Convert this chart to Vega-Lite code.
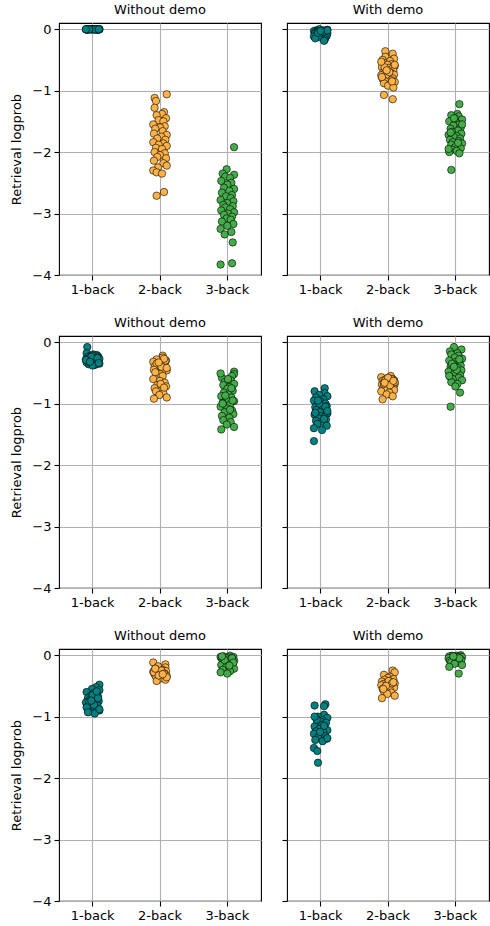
{
"$schema": "https://vega.github.io/schema/vega-lite/v6.json",
"padding": {"left": 10, "top": 3, "right": 1, "bottom": 2},
"background": "white",
"config": {
  "font": "DejaVu Sans",
  "view": {"stroke": "black", "strokeWidth": 1.1},
  "axis": {"labelFont": "DejaVu Sans", "labelFontSize": 13, "labelColor": "black", "tickColor": "black", "tickSize": 5, "tickWidth": 1.1, "domain": false, "grid": true, "gridColor": "#b0b0b0", "gridWidth": 1.1, "titleFont": "DejaVu Sans", "titleFontSize": 13, "titleFontWeight": "normal", "titleColor": "black", "labelPadding": 3},
  "title": {"font": "DejaVu Sans", "fontSize": 13, "fontWeight": "normal", "color": "black", "offset": 6},
  "circle": {"size": 55, "stroke": "black", "strokeWidth": 0.6, "opacity": 1}
},
"data": {"values": [
{"p":1,"c":"1-back","v":0.0,"j":0.08},{"p":1,"c":"1-back","v":-0.001,"j":-0.05},{"p":1,"c":"1-back","v":-0.002,"j":0.02},{"p":1,"c":"1-back","v":-0.003,"j":-0.09},{"p":1,"c":"1-back","v":-0.005,"j":0.06},{"p":1,"c":"1-back","v":-0.004,"j":-0.02},{"p":1,"c":"1-back","v":-0.001,"j":0.1},{"p":1,"c":"1-back","v":-0.002,"j":-0.07},{"p":1,"c":"1-back","v":-0.006,"j":0.04},{"p":1,"c":"1-back","v":-0.003,"j":-0.1},{"p":1,"c":"1-back","v":-0.002,"j":0.0},{"p":1,"c":"1-back","v":-0.001,"j":0.07},{"p":1,"c":"1-back","v":-0.004,"j":-0.04},{"p":1,"c":"1-back","v":-0.008,"j":0.09},{"p":1,"c":"1-back","v":-0.002,"j":-0.08},{"p":1,"c":"1-back","v":-0.001,"j":0.03},{"p":1,"c":"1-back","v":-0.003,"j":-0.06},{"p":1,"c":"1-back","v":-0.005,"j":0.05},{"p":1,"c":"1-back","v":-0.002,"j":-0.01},{"p":1,"c":"1-back","v":-0.001,"j":0.1},{"p":1,"c":"1-back","v":-0.01,"j":-0.09},{"p":1,"c":"1-back","v":-0.002,"j":0.01},{"p":1,"c":"1-back","v":-0.003,"j":0.06},{"p":1,"c":"1-back","v":-0.001,"j":-0.03},{"p":1,"c":"1-back","v":-0.004,"j":0.08},{"p":1,"c":"1-back","v":-0.002,"j":-0.07},{"p":1,"c":"1-back","v":-0.006,"j":0.04},{"p":1,"c":"1-back","v":-0.001,"j":-0.05},{"p":1,"c":"1-back","v":-0.003,"j":0.09},{"p":1,"c":"1-back","v":-0.002,"j":-0.1},
{"p":1,"c":"2-back","v":-1.06,"j":0.1},{"p":1,"c":"2-back","v":-1.12,"j":-0.08},{"p":1,"c":"2-back","v":-1.17,"j":-0.06},{"p":1,"c":"2-back","v":-1.28,"j":-0.08},{"p":1,"c":"2-back","v":-1.35,"j":0.06},{"p":1,"c":"2-back","v":-1.38,"j":0.03},{"p":1,"c":"2-back","v":-1.4,"j":-0.05},{"p":1,"c":"2-back","v":-1.45,"j":0.09},{"p":1,"c":"2-back","v":-1.48,"j":-0.02},{"p":1,"c":"2-back","v":-1.5,"j":0.05},{"p":1,"c":"2-back","v":-1.55,"j":-0.1},{"p":1,"c":"2-back","v":-1.58,"j":0.07},{"p":1,"c":"2-back","v":-1.6,"j":0.0},{"p":1,"c":"2-back","v":-1.62,"j":-0.07},{"p":1,"c":"2-back","v":-1.66,"j":0.04},{"p":1,"c":"2-back","v":-1.7,"j":-0.09},{"p":1,"c":"2-back","v":-1.72,"j":0.1},{"p":1,"c":"2-back","v":-1.75,"j":0.02},{"p":1,"c":"2-back","v":-1.78,"j":-0.04},{"p":1,"c":"2-back","v":-1.8,"j":0.08},{"p":1,"c":"2-back","v":-1.84,"j":-0.1},{"p":1,"c":"2-back","v":-1.86,"j":0.05},{"p":1,"c":"2-back","v":-1.88,"j":-0.02},{"p":1,"c":"2-back","v":-1.9,"j":0.1},{"p":1,"c":"2-back","v":-1.93,"j":-0.06},{"p":1,"c":"2-back","v":-1.95,"j":0.03},{"p":1,"c":"2-back","v":-2.0,"j":-0.08},{"p":1,"c":"2-back","v":-2.02,"j":0.07},{"p":1,"c":"2-back","v":-2.05,"j":0.0},{"p":1,"c":"2-back","v":-2.08,"j":-0.04},{"p":1,"c":"2-back","v":-2.1,"j":0.09},{"p":1,"c":"2-back","v":-2.14,"j":-0.09},{"p":1,"c":"2-back","v":-2.18,"j":0.05},{"p":1,"c":"2-back","v":-2.22,"j":0.1},{"p":1,"c":"2-back","v":-2.25,"j":-0.03},{"p":1,"c":"2-back","v":-2.3,"j":-0.1},{"p":1,"c":"2-back","v":-2.33,"j":-0.05},{"p":1,"c":"2-back","v":-2.35,"j":0.03},{"p":1,"c":"2-back","v":-2.65,"j":0.06},{"p":1,"c":"2-back","v":-2.71,"j":-0.05},
{"p":1,"c":"3-back","v":-1.92,"j":0.1},{"p":1,"c":"3-back","v":-2.28,"j":-0.01},{"p":1,"c":"3-back","v":-2.35,"j":-0.07},{"p":1,"c":"3-back","v":-2.37,"j":0.1},{"p":1,"c":"3-back","v":-2.4,"j":-0.03},{"p":1,"c":"3-back","v":-2.42,"j":0.04},{"p":1,"c":"3-back","v":-2.47,"j":-0.09},{"p":1,"c":"3-back","v":-2.5,"j":0.06},{"p":1,"c":"3-back","v":-2.53,"j":0.0},{"p":1,"c":"3-back","v":-2.58,"j":-0.05},{"p":1,"c":"3-back","v":-2.6,"j":0.1},{"p":1,"c":"3-back","v":-2.63,"j":0.03},{"p":1,"c":"3-back","v":-2.66,"j":-0.08},{"p":1,"c":"3-back","v":-2.7,"j":0.07},{"p":1,"c":"3-back","v":-2.72,"j":-0.02},{"p":1,"c":"3-back","v":-2.75,"j":0.05},{"p":1,"c":"3-back","v":-2.78,"j":-0.1},{"p":1,"c":"3-back","v":-2.8,"j":0.09},{"p":1,"c":"3-back","v":-2.83,"j":0.0},{"p":1,"c":"3-back","v":-2.86,"j":-0.06},{"p":1,"c":"3-back","v":-2.88,"j":0.08},{"p":1,"c":"3-back","v":-2.9,"j":-0.03},{"p":1,"c":"3-back","v":-2.93,"j":0.04},{"p":1,"c":"3-back","v":-2.95,"j":-0.09},{"p":1,"c":"3-back","v":-2.98,"j":0.1},{"p":1,"c":"3-back","v":-3.0,"j":0.01},{"p":1,"c":"3-back","v":-3.02,"j":-0.05},{"p":1,"c":"3-back","v":-3.05,"j":0.07},{"p":1,"c":"3-back","v":-3.08,"j":-0.01},{"p":1,"c":"3-back","v":-3.1,"j":0.05},{"p":1,"c":"3-back","v":-3.13,"j":-0.08},{"p":1,"c":"3-back","v":-3.17,"j":0.09},{"p":1,"c":"3-back","v":-3.2,"j":0.0},{"p":1,"c":"3-back","v":-3.25,"j":-0.1},{"p":1,"c":"3-back","v":-3.3,"j":0.06},{"p":1,"c":"3-back","v":-3.34,"j":-0.04},{"p":1,"c":"3-back","v":-3.47,"j":0.08},{"p":1,"c":"3-back","v":-3.81,"j":0.07},{"p":1,"c":"3-back","v":-3.83,"j":-0.1},
{"p":2,"c":"1-back","v":0.0,"j":-0.02},{"p":2,"c":"1-back","v":-0.01,"j":0.1},{"p":2,"c":"1-back","v":-0.02,"j":-0.07},{"p":2,"c":"1-back","v":-0.02,"j":0.04},{"p":2,"c":"1-back","v":-0.03,"j":-0.1},{"p":2,"c":"1-back","v":-0.03,"j":0.0},{"p":2,"c":"1-back","v":-0.04,"j":0.07},{"p":2,"c":"1-back","v":-0.04,"j":-0.04},{"p":2,"c":"1-back","v":-0.05,"j":0.09},{"p":2,"c":"1-back","v":-0.05,"j":-0.08},{"p":2,"c":"1-back","v":-0.05,"j":0.03},{"p":2,"c":"1-back","v":-0.06,"j":-0.06},{"p":2,"c":"1-back","v":-0.06,"j":0.05},{"p":2,"c":"1-back","v":-0.07,"j":-0.01},{"p":2,"c":"1-back","v":-0.07,"j":0.1},{"p":2,"c":"1-back","v":-0.08,"j":-0.09},{"p":2,"c":"1-back","v":-0.08,"j":0.01},{"p":2,"c":"1-back","v":-0.08,"j":0.06},{"p":2,"c":"1-back","v":-0.09,"j":-0.03},{"p":2,"c":"1-back","v":-0.09,"j":0.08},{"p":2,"c":"1-back","v":-0.1,"j":-0.07},{"p":2,"c":"1-back","v":-0.1,"j":0.04},{"p":2,"c":"1-back","v":-0.11,"j":-0.05},{"p":2,"c":"1-back","v":-0.11,"j":0.09},{"p":2,"c":"1-back","v":-0.12,"j":-0.1},{"p":2,"c":"1-back","v":-0.12,"j":0.02},{"p":2,"c":"1-back","v":-0.13,"j":-0.02},{"p":2,"c":"1-back","v":-0.14,"j":0.07},{"p":2,"c":"1-back","v":-0.15,"j":-0.08},{"p":2,"c":"1-back","v":-0.04,"j":0.05},{"p":2,"c":"1-back","v":-0.06,"j":-0.04},{"p":2,"c":"1-back","v":-0.02,"j":0.1},{"p":2,"c":"1-back","v":-0.17,"j":0.06},{"p":2,"c":"1-back","v":-0.19,"j":0.05},{"p":2,"c":"1-back","v":-0.03,"j":0.0},
{"p":2,"c":"2-back","v":-0.36,"j":-0.04},{"p":2,"c":"2-back","v":-0.4,"j":0.07},{"p":2,"c":"2-back","v":-0.45,"j":-0.04},{"p":2,"c":"2-back","v":-0.48,"j":0.09},{"p":2,"c":"2-back","v":-0.5,"j":-0.08},{"p":2,"c":"2-back","v":-0.52,"j":0.03},{"p":2,"c":"2-back","v":-0.55,"j":-0.06},{"p":2,"c":"2-back","v":-0.57,"j":0.05},{"p":2,"c":"2-back","v":-0.58,"j":-0.01},{"p":2,"c":"2-back","v":-0.6,"j":0.1},{"p":2,"c":"2-back","v":-0.62,"j":-0.09},{"p":2,"c":"2-back","v":-0.63,"j":0.01},{"p":2,"c":"2-back","v":-0.65,"j":0.06},{"p":2,"c":"2-back","v":-0.66,"j":-0.03},{"p":2,"c":"2-back","v":-0.68,"j":0.08},{"p":2,"c":"2-back","v":-0.7,"j":-0.07},{"p":2,"c":"2-back","v":-0.71,"j":0.04},{"p":2,"c":"2-back","v":-0.72,"j":-0.05},{"p":2,"c":"2-back","v":-0.74,"j":0.09},{"p":2,"c":"2-back","v":-0.75,"j":-0.1},{"p":2,"c":"2-back","v":-0.77,"j":0.02},{"p":2,"c":"2-back","v":-0.78,"j":-0.02},{"p":2,"c":"2-back","v":-0.8,"j":0.07},{"p":2,"c":"2-back","v":-0.81,"j":-0.08},{"p":2,"c":"2-back","v":-0.83,"j":0.05},{"p":2,"c":"2-back","v":-0.85,"j":-0.04},{"p":2,"c":"2-back","v":-0.86,"j":0.1},{"p":2,"c":"2-back","v":-0.88,"j":-0.06},{"p":2,"c":"2-back","v":-0.9,"j":0.03},{"p":2,"c":"2-back","v":-0.92,"j":0.0},{"p":2,"c":"2-back","v":-0.95,"j":0.08},{"p":2,"c":"2-back","v":-0.62,"j":-0.05},{"p":2,"c":"2-back","v":-0.7,"j":0.02},{"p":2,"c":"2-back","v":-0.78,"j":-0.09},{"p":2,"c":"2-back","v":-0.85,"j":0.06},{"p":2,"c":"2-back","v":-0.67,"j":-0.02},{"p":2,"c":"2-back","v":-0.58,"j":0.1},{"p":2,"c":"2-back","v":-1.07,"j":-0.06},{"p":2,"c":"2-back","v":-1.14,"j":0.07},{"p":2,"c":"2-back","v":-0.53,"j":-0.1},
{"p":2,"c":"3-back","v":-1.22,"j":0.06},{"p":2,"c":"3-back","v":-1.38,"j":0.03},{"p":2,"c":"3-back","v":-1.4,"j":-0.06},{"p":2,"c":"3-back","v":-1.42,"j":0.05},{"p":2,"c":"3-back","v":-1.45,"j":-0.01},{"p":2,"c":"3-back","v":-1.47,"j":0.1},{"p":2,"c":"3-back","v":-1.5,"j":-0.09},{"p":2,"c":"3-back","v":-1.52,"j":0.01},{"p":2,"c":"3-back","v":-1.55,"j":0.06},{"p":2,"c":"3-back","v":-1.57,"j":-0.03},{"p":2,"c":"3-back","v":-1.6,"j":0.08},{"p":2,"c":"3-back","v":-1.62,"j":-0.07},{"p":2,"c":"3-back","v":-1.65,"j":0.04},{"p":2,"c":"3-back","v":-1.67,"j":-0.05},{"p":2,"c":"3-back","v":-1.7,"j":0.09},{"p":2,"c":"3-back","v":-1.72,"j":-0.1},{"p":2,"c":"3-back","v":-1.74,"j":0.02},{"p":2,"c":"3-back","v":-1.76,"j":-0.02},{"p":2,"c":"3-back","v":-1.78,"j":0.07},{"p":2,"c":"3-back","v":-1.8,"j":-0.08},{"p":2,"c":"3-back","v":-1.82,"j":0.05},{"p":2,"c":"3-back","v":-1.84,"j":-0.04},{"p":2,"c":"3-back","v":-1.86,"j":0.1},{"p":2,"c":"3-back","v":-1.88,"j":-0.06},{"p":2,"c":"3-back","v":-1.9,"j":0.03},{"p":2,"c":"3-back","v":-1.92,"j":0.0},{"p":2,"c":"3-back","v":-1.94,"j":0.08},{"p":2,"c":"3-back","v":-1.96,"j":-0.05},{"p":2,"c":"3-back","v":-1.98,"j":0.02},{"p":2,"c":"3-back","v":-2.0,"j":-0.09},{"p":2,"c":"3-back","v":-2.02,"j":0.06},{"p":2,"c":"3-back","v":-1.45,"j":-0.02},{"p":2,"c":"3-back","v":-1.55,"j":0.1},{"p":2,"c":"3-back","v":-1.68,"j":-0.07},{"p":2,"c":"3-back","v":-1.85,"j":0.04},{"p":2,"c":"3-back","v":-1.95,"j":-0.1},{"p":2,"c":"3-back","v":-2.29,"j":-0.06},
{"p":3,"c":"1-back","v":-0.08,"j":-0.08},{"p":3,"c":"1-back","v":-0.18,"j":-0.09},{"p":3,"c":"1-back","v":-0.2,"j":0.01},{"p":3,"c":"1-back","v":-0.21,"j":0.06},{"p":3,"c":"1-back","v":-0.22,"j":-0.03},{"p":3,"c":"1-back","v":-0.23,"j":0.08},{"p":3,"c":"1-back","v":-0.24,"j":-0.07},{"p":3,"c":"1-back","v":-0.25,"j":0.04},{"p":3,"c":"1-back","v":-0.26,"j":-0.05},{"p":3,"c":"1-back","v":-0.27,"j":0.09},{"p":3,"c":"1-back","v":-0.28,"j":-0.1},{"p":3,"c":"1-back","v":-0.29,"j":0.02},{"p":3,"c":"1-back","v":-0.3,"j":-0.02},{"p":3,"c":"1-back","v":-0.31,"j":0.07},{"p":3,"c":"1-back","v":-0.32,"j":-0.08},{"p":3,"c":"1-back","v":-0.33,"j":0.05},{"p":3,"c":"1-back","v":-0.34,"j":-0.04},{"p":3,"c":"1-back","v":-0.35,"j":0.1},{"p":3,"c":"1-back","v":-0.36,"j":-0.06},{"p":3,"c":"1-back","v":-0.37,"j":0.03},{"p":3,"c":"1-back","v":-0.22,"j":0.0},{"p":3,"c":"1-back","v":-0.25,"j":0.08},{"p":3,"c":"1-back","v":-0.28,"j":-0.05},{"p":3,"c":"1-back","v":-0.3,"j":0.02},{"p":3,"c":"1-back","v":-0.33,"j":-0.09},{"p":3,"c":"1-back","v":-0.35,"j":0.06},{"p":3,"c":"1-back","v":-0.24,"j":-0.02},{"p":3,"c":"1-back","v":-0.27,"j":0.1},{"p":3,"c":"1-back","v":-0.31,"j":-0.07},{"p":3,"c":"1-back","v":-0.36,"j":0.04},{"p":3,"c":"1-back","v":-0.29,"j":-0.1},{"p":3,"c":"1-back","v":-0.38,"j":0.0},{"p":3,"c":"1-back","v":-0.26,"j":0.07},{"p":3,"c":"1-back","v":-0.32,"j":-0.04},{"p":3,"c":"1-back","v":-0.34,"j":0.09},
{"p":3,"c":"2-back","v":-0.22,"j":0.04},{"p":3,"c":"2-back","v":-0.25,"j":0.04},{"p":3,"c":"2-back","v":-0.28,"j":-0.05},{"p":3,"c":"2-back","v":-0.3,"j":0.09},{"p":3,"c":"2-back","v":-0.32,"j":-0.1},{"p":3,"c":"2-back","v":-0.34,"j":0.02},{"p":3,"c":"2-back","v":-0.36,"j":-0.02},{"p":3,"c":"2-back","v":-0.38,"j":0.07},{"p":3,"c":"2-back","v":-0.4,"j":-0.08},{"p":3,"c":"2-back","v":-0.42,"j":0.05},{"p":3,"c":"2-back","v":-0.44,"j":-0.04},{"p":3,"c":"2-back","v":-0.46,"j":0.1},{"p":3,"c":"2-back","v":-0.48,"j":-0.06},{"p":3,"c":"2-back","v":-0.5,"j":0.03},{"p":3,"c":"2-back","v":-0.52,"j":0.0},{"p":3,"c":"2-back","v":-0.3,"j":0.08},{"p":3,"c":"2-back","v":-0.35,"j":-0.05},{"p":3,"c":"2-back","v":-0.4,"j":0.02},{"p":3,"c":"2-back","v":-0.45,"j":-0.09},{"p":3,"c":"2-back","v":-0.27,"j":0.06},{"p":3,"c":"2-back","v":-0.33,"j":-0.02},{"p":3,"c":"2-back","v":-0.42,"j":0.1},{"p":3,"c":"2-back","v":-0.49,"j":-0.07},{"p":3,"c":"2-back","v":-0.55,"j":0.04},{"p":3,"c":"2-back","v":-0.6,"j":-0.1},{"p":3,"c":"2-back","v":-0.63,"j":0.0},{"p":3,"c":"2-back","v":-0.66,"j":0.07},{"p":3,"c":"2-back","v":-0.7,"j":-0.04},{"p":3,"c":"2-back","v":-0.72,"j":0.09},{"p":3,"c":"2-back","v":-0.75,"j":-0.08},{"p":3,"c":"2-back","v":-0.78,"j":0.03},{"p":3,"c":"2-back","v":-0.8,"j":-0.06},{"p":3,"c":"2-back","v":-0.83,"j":0.05},{"p":3,"c":"2-back","v":-0.86,"j":-0.01},{"p":3,"c":"2-back","v":-0.9,"j":0.1},{"p":3,"c":"2-back","v":-0.92,"j":-0.09},{"p":3,"c":"2-back","v":-0.68,"j":0.01},{"p":3,"c":"2-back","v":-0.74,"j":0.06},
{"p":3,"c":"3-back","v":-0.48,"j":0.1},{"p":3,"c":"3-back","v":-0.52,"j":0.1},{"p":3,"c":"3-back","v":-0.55,"j":0.07},{"p":3,"c":"3-back","v":-0.58,"j":-0.08},{"p":3,"c":"3-back","v":-0.62,"j":0.05},{"p":3,"c":"3-back","v":-0.65,"j":-0.04},{"p":3,"c":"3-back","v":-0.68,"j":0.1},{"p":3,"c":"3-back","v":-0.7,"j":-0.06},{"p":3,"c":"3-back","v":-0.73,"j":0.03},{"p":3,"c":"3-back","v":-0.76,"j":0.0},{"p":3,"c":"3-back","v":-0.79,"j":0.08},{"p":3,"c":"3-back","v":-0.82,"j":-0.05},{"p":3,"c":"3-back","v":-0.85,"j":0.02},{"p":3,"c":"3-back","v":-0.88,"j":-0.09},{"p":3,"c":"3-back","v":-0.9,"j":0.06},{"p":3,"c":"3-back","v":-0.93,"j":-0.02},{"p":3,"c":"3-back","v":-0.96,"j":0.1},{"p":3,"c":"3-back","v":-0.99,"j":-0.07},{"p":3,"c":"3-back","v":-1.02,"j":0.04},{"p":3,"c":"3-back","v":-1.05,"j":-0.1},{"p":3,"c":"3-back","v":-1.08,"j":0.0},{"p":3,"c":"3-back","v":-1.11,"j":0.07},{"p":3,"c":"3-back","v":-1.14,"j":-0.04},{"p":3,"c":"3-back","v":-1.17,"j":0.09},{"p":3,"c":"3-back","v":-1.2,"j":-0.08},{"p":3,"c":"3-back","v":-1.23,"j":0.03},{"p":3,"c":"3-back","v":-1.27,"j":-0.06},{"p":3,"c":"3-back","v":-1.3,"j":0.05},{"p":3,"c":"3-back","v":-1.34,"j":-0.01},{"p":3,"c":"3-back","v":-1.38,"j":0.1},{"p":3,"c":"3-back","v":-1.42,"j":-0.09},{"p":3,"c":"3-back","v":-0.6,"j":0.01},{"p":3,"c":"3-back","v":-0.75,"j":0.06},{"p":3,"c":"3-back","v":-0.87,"j":-0.03},{"p":3,"c":"3-back","v":-0.95,"j":0.08},{"p":3,"c":"3-back","v":-1.0,"j":-0.07},{"p":3,"c":"3-back","v":-1.1,"j":0.04},{"p":3,"c":"3-back","v":-0.51,"j":-0.1},
{"p":4,"c":"1-back","v":-0.75,"j":0.06},{"p":4,"c":"1-back","v":-0.8,"j":-0.09},{"p":4,"c":"1-back","v":-0.83,"j":0.06},{"p":4,"c":"1-back","v":-0.86,"j":-0.02},{"p":4,"c":"1-back","v":-0.88,"j":0.1},{"p":4,"c":"1-back","v":-0.9,"j":-0.07},{"p":4,"c":"1-back","v":-0.93,"j":0.04},{"p":4,"c":"1-back","v":-0.95,"j":-0.1},{"p":4,"c":"1-back","v":-0.97,"j":0.0},{"p":4,"c":"1-back","v":-1.0,"j":0.07},{"p":4,"c":"1-back","v":-1.02,"j":-0.04},{"p":4,"c":"1-back","v":-1.04,"j":0.09},{"p":4,"c":"1-back","v":-1.06,"j":-0.08},{"p":4,"c":"1-back","v":-1.08,"j":0.03},{"p":4,"c":"1-back","v":-1.1,"j":-0.06},{"p":4,"c":"1-back","v":-1.12,"j":0.05},{"p":4,"c":"1-back","v":-1.14,"j":-0.01},{"p":4,"c":"1-back","v":-1.16,"j":0.1},{"p":4,"c":"1-back","v":-1.18,"j":-0.09},{"p":4,"c":"1-back","v":-1.2,"j":0.01},{"p":4,"c":"1-back","v":-1.22,"j":0.06},{"p":4,"c":"1-back","v":-1.24,"j":-0.03},{"p":4,"c":"1-back","v":-1.26,"j":0.08},{"p":4,"c":"1-back","v":-1.28,"j":-0.07},{"p":4,"c":"1-back","v":-1.3,"j":0.04},{"p":4,"c":"1-back","v":-1.33,"j":-0.05},{"p":4,"c":"1-back","v":-1.36,"j":0.09},{"p":4,"c":"1-back","v":-1.4,"j":-0.1},{"p":4,"c":"1-back","v":-1.43,"j":0.02},{"p":4,"c":"1-back","v":-1.0,"j":-0.02},{"p":4,"c":"1-back","v":-1.05,"j":0.07},{"p":4,"c":"1-back","v":-1.15,"j":-0.08},{"p":4,"c":"1-back","v":-1.25,"j":0.05},{"p":4,"c":"1-back","v":-0.95,"j":-0.04},{"p":4,"c":"1-back","v":-1.12,"j":0.1},{"p":4,"c":"1-back","v":-1.61,"j":-0.1},
{"p":4,"c":"2-back","v":-0.55,"j":0.04},{"p":4,"c":"2-back","v":-0.57,"j":-0.1},{"p":4,"c":"2-back","v":-0.58,"j":0.0},{"p":4,"c":"2-back","v":-0.6,"j":0.07},{"p":4,"c":"2-back","v":-0.61,"j":-0.04},{"p":4,"c":"2-back","v":-0.62,"j":0.09},{"p":4,"c":"2-back","v":-0.63,"j":-0.08},{"p":4,"c":"2-back","v":-0.64,"j":0.03},{"p":4,"c":"2-back","v":-0.65,"j":-0.06},{"p":4,"c":"2-back","v":-0.66,"j":0.05},{"p":4,"c":"2-back","v":-0.67,"j":-0.01},{"p":4,"c":"2-back","v":-0.68,"j":0.1},{"p":4,"c":"2-back","v":-0.69,"j":-0.09},{"p":4,"c":"2-back","v":-0.7,"j":0.01},{"p":4,"c":"2-back","v":-0.71,"j":0.06},{"p":4,"c":"2-back","v":-0.72,"j":-0.03},{"p":4,"c":"2-back","v":-0.73,"j":0.08},{"p":4,"c":"2-back","v":-0.74,"j":-0.07},{"p":4,"c":"2-back","v":-0.75,"j":0.04},{"p":4,"c":"2-back","v":-0.76,"j":-0.05},{"p":4,"c":"2-back","v":-0.78,"j":0.09},{"p":4,"c":"2-back","v":-0.8,"j":-0.1},{"p":4,"c":"2-back","v":-0.82,"j":0.02},{"p":4,"c":"2-back","v":-0.85,"j":-0.02},{"p":4,"c":"2-back","v":-0.88,"j":0.07},{"p":4,"c":"2-back","v":-0.93,"j":-0.08},{"p":4,"c":"2-back","v":-0.6,"j":0.05},{"p":4,"c":"2-back","v":-0.62,"j":-0.04},{"p":4,"c":"2-back","v":-0.65,"j":0.1},{"p":4,"c":"2-back","v":-0.68,"j":-0.06},{"p":4,"c":"2-back","v":-0.7,"j":0.03},{"p":4,"c":"2-back","v":-0.58,"j":0.0},{"p":4,"c":"2-back","v":-0.63,"j":0.08},{"p":4,"c":"2-back","v":-0.66,"j":-0.05},
{"p":4,"c":"3-back","v":-0.08,"j":-0.02},{"p":4,"c":"3-back","v":-0.12,"j":0.09},{"p":4,"c":"3-back","v":-0.15,"j":-0.08},{"p":4,"c":"3-back","v":-0.18,"j":0.03},{"p":4,"c":"3-back","v":-0.2,"j":-0.06},{"p":4,"c":"3-back","v":-0.22,"j":0.05},{"p":4,"c":"3-back","v":-0.25,"j":-0.01},{"p":4,"c":"3-back","v":-0.27,"j":0.1},{"p":4,"c":"3-back","v":-0.3,"j":-0.09},{"p":4,"c":"3-back","v":-0.32,"j":0.01},{"p":4,"c":"3-back","v":-0.34,"j":0.06},{"p":4,"c":"3-back","v":-0.36,"j":-0.03},{"p":4,"c":"3-back","v":-0.38,"j":0.08},{"p":4,"c":"3-back","v":-0.4,"j":-0.07},{"p":4,"c":"3-back","v":-0.42,"j":0.04},{"p":4,"c":"3-back","v":-0.44,"j":-0.05},{"p":4,"c":"3-back","v":-0.46,"j":0.09},{"p":4,"c":"3-back","v":-0.48,"j":-0.1},{"p":4,"c":"3-back","v":-0.5,"j":0.02},{"p":4,"c":"3-back","v":-0.52,"j":-0.02},{"p":4,"c":"3-back","v":-0.54,"j":0.07},{"p":4,"c":"3-back","v":-0.56,"j":-0.08},{"p":4,"c":"3-back","v":-0.58,"j":0.05},{"p":4,"c":"3-back","v":-0.6,"j":-0.04},{"p":4,"c":"3-back","v":-0.62,"j":0.1},{"p":4,"c":"3-back","v":-0.65,"j":-0.06},{"p":4,"c":"3-back","v":-0.68,"j":0.03},{"p":4,"c":"3-back","v":-0.72,"j":0.0},{"p":4,"c":"3-back","v":-0.82,"j":0.07},{"p":4,"c":"3-back","v":-0.35,"j":-0.05},{"p":4,"c":"3-back","v":-0.45,"j":0.02},{"p":4,"c":"3-back","v":-0.55,"j":-0.09},{"p":4,"c":"3-back","v":-0.28,"j":0.06},{"p":4,"c":"3-back","v":-0.4,"j":-0.02},{"p":4,"c":"3-back","v":-1.05,"j":-0.07},
{"p":5,"c":"1-back","v":-0.48,"j":0.1},{"p":5,"c":"1-back","v":-0.52,"j":0.05},{"p":5,"c":"1-back","v":-0.55,"j":-0.01},{"p":5,"c":"1-back","v":-0.57,"j":0.1},{"p":5,"c":"1-back","v":-0.6,"j":-0.09},{"p":5,"c":"1-back","v":-0.62,"j":0.01},{"p":5,"c":"1-back","v":-0.64,"j":0.06},{"p":5,"c":"1-back","v":-0.66,"j":-0.03},{"p":5,"c":"1-back","v":-0.68,"j":0.08},{"p":5,"c":"1-back","v":-0.7,"j":-0.07},{"p":5,"c":"1-back","v":-0.72,"j":0.04},{"p":5,"c":"1-back","v":-0.73,"j":-0.05},{"p":5,"c":"1-back","v":-0.75,"j":0.09},{"p":5,"c":"1-back","v":-0.77,"j":-0.1},{"p":5,"c":"1-back","v":-0.78,"j":0.02},{"p":5,"c":"1-back","v":-0.8,"j":-0.02},{"p":5,"c":"1-back","v":-0.82,"j":0.07},{"p":5,"c":"1-back","v":-0.84,"j":-0.08},{"p":5,"c":"1-back","v":-0.86,"j":0.05},{"p":5,"c":"1-back","v":-0.88,"j":-0.04},{"p":5,"c":"1-back","v":-0.9,"j":0.1},{"p":5,"c":"1-back","v":-0.92,"j":-0.06},{"p":5,"c":"1-back","v":-0.95,"j":0.03},{"p":5,"c":"1-back","v":-0.65,"j":0.0},{"p":5,"c":"1-back","v":-0.7,"j":0.08},{"p":5,"c":"1-back","v":-0.76,"j":-0.05},{"p":5,"c":"1-back","v":-0.81,"j":0.02},{"p":5,"c":"1-back","v":-0.85,"j":-0.09},{"p":5,"c":"1-back","v":-0.59,"j":0.06},{"p":5,"c":"1-back","v":-0.74,"j":-0.02},{"p":5,"c":"1-back","v":-0.88,"j":0.1},{"p":5,"c":"1-back","v":-0.93,"j":-0.07},
{"p":5,"c":"2-back","v":-0.12,"j":-0.1},{"p":5,"c":"2-back","v":-0.15,"j":0.08},{"p":5,"c":"2-back","v":-0.18,"j":-0.03},{"p":5,"c":"2-back","v":-0.2,"j":0.08},{"p":5,"c":"2-back","v":-0.22,"j":-0.07},{"p":5,"c":"2-back","v":-0.24,"j":0.04},{"p":5,"c":"2-back","v":-0.25,"j":-0.05},{"p":5,"c":"2-back","v":-0.26,"j":0.09},{"p":5,"c":"2-back","v":-0.27,"j":-0.1},{"p":5,"c":"2-back","v":-0.28,"j":0.02},{"p":5,"c":"2-back","v":-0.29,"j":-0.02},{"p":5,"c":"2-back","v":-0.3,"j":0.07},{"p":5,"c":"2-back","v":-0.31,"j":-0.08},{"p":5,"c":"2-back","v":-0.32,"j":0.05},{"p":5,"c":"2-back","v":-0.33,"j":-0.04},{"p":5,"c":"2-back","v":-0.34,"j":0.1},{"p":5,"c":"2-back","v":-0.35,"j":-0.06},{"p":5,"c":"2-back","v":-0.36,"j":0.03},{"p":5,"c":"2-back","v":-0.38,"j":0.0},{"p":5,"c":"2-back","v":-0.4,"j":0.08},{"p":5,"c":"2-back","v":-0.42,"j":-0.05},{"p":5,"c":"2-back","v":-0.25,"j":0.02},{"p":5,"c":"2-back","v":-0.28,"j":-0.09},{"p":5,"c":"2-back","v":-0.3,"j":0.06},{"p":5,"c":"2-back","v":-0.33,"j":-0.02},{"p":5,"c":"2-back","v":-0.36,"j":0.1},{"p":5,"c":"2-back","v":-0.22,"j":-0.07},{"p":5,"c":"2-back","v":-0.31,"j":0.04},
{"p":5,"c":"3-back","v":-0.01,"j":0.04},{"p":5,"c":"3-back","v":-0.02,"j":-0.05},{"p":5,"c":"3-back","v":-0.03,"j":0.09},{"p":5,"c":"3-back","v":-0.03,"j":-0.1},{"p":5,"c":"3-back","v":-0.04,"j":0.02},{"p":5,"c":"3-back","v":-0.05,"j":-0.02},{"p":5,"c":"3-back","v":-0.05,"j":0.07},{"p":5,"c":"3-back","v":-0.06,"j":-0.08},{"p":5,"c":"3-back","v":-0.07,"j":0.05},{"p":5,"c":"3-back","v":-0.08,"j":-0.04},{"p":5,"c":"3-back","v":-0.09,"j":0.1},{"p":5,"c":"3-back","v":-0.1,"j":-0.06},{"p":5,"c":"3-back","v":-0.11,"j":0.03},{"p":5,"c":"3-back","v":-0.12,"j":0.0},{"p":5,"c":"3-back","v":-0.13,"j":0.08},{"p":5,"c":"3-back","v":-0.14,"j":-0.05},{"p":5,"c":"3-back","v":-0.15,"j":0.02},{"p":5,"c":"3-back","v":-0.16,"j":-0.09},{"p":5,"c":"3-back","v":-0.18,"j":0.06},{"p":5,"c":"3-back","v":-0.2,"j":-0.02},{"p":5,"c":"3-back","v":-0.22,"j":0.1},{"p":5,"c":"3-back","v":-0.24,"j":-0.07},{"p":5,"c":"3-back","v":-0.26,"j":0.04},{"p":5,"c":"3-back","v":-0.28,"j":-0.1},{"p":5,"c":"3-back","v":-0.3,"j":0.0},{"p":5,"c":"3-back","v":-0.05,"j":0.07},{"p":5,"c":"3-back","v":-0.08,"j":-0.04},{"p":5,"c":"3-back","v":-0.12,"j":0.09},{"p":5,"c":"3-back","v":-0.02,"j":-0.08},{"p":5,"c":"3-back","v":-0.17,"j":0.03},
{"p":6,"c":"1-back","v":-0.8,"j":0.07},{"p":6,"c":"1-back","v":-0.82,"j":-0.09},{"p":6,"c":"1-back","v":-0.83,"j":0.05},{"p":6,"c":"1-back","v":-0.97,"j":0.05},{"p":6,"c":"1-back","v":-1.0,"j":-0.04},{"p":6,"c":"1-back","v":-1.02,"j":0.1},{"p":6,"c":"1-back","v":-1.04,"j":-0.06},{"p":6,"c":"1-back","v":-1.06,"j":0.03},{"p":6,"c":"1-back","v":-1.08,"j":0.0},{"p":6,"c":"1-back","v":-1.1,"j":0.08},{"p":6,"c":"1-back","v":-1.12,"j":-0.05},{"p":6,"c":"1-back","v":-1.14,"j":0.02},{"p":6,"c":"1-back","v":-1.16,"j":-0.09},{"p":6,"c":"1-back","v":-1.18,"j":0.06},{"p":6,"c":"1-back","v":-1.2,"j":-0.02},{"p":6,"c":"1-back","v":-1.22,"j":0.1},{"p":6,"c":"1-back","v":-1.24,"j":-0.07},{"p":6,"c":"1-back","v":-1.26,"j":0.04},{"p":6,"c":"1-back","v":-1.28,"j":-0.1},{"p":6,"c":"1-back","v":-1.3,"j":0.0},{"p":6,"c":"1-back","v":-1.32,"j":0.07},{"p":6,"c":"1-back","v":-1.34,"j":-0.04},{"p":6,"c":"1-back","v":-1.36,"j":0.09},{"p":6,"c":"1-back","v":-1.38,"j":-0.08},{"p":6,"c":"1-back","v":-1.4,"j":0.03},{"p":6,"c":"1-back","v":-1.05,"j":-0.06},{"p":6,"c":"1-back","v":-1.15,"j":0.05},{"p":6,"c":"1-back","v":-1.25,"j":-0.01},{"p":6,"c":"1-back","v":-1.35,"j":0.1},{"p":6,"c":"1-back","v":-1.0,"j":-0.09},{"p":6,"c":"1-back","v":-1.51,"j":-0.1},{"p":6,"c":"1-back","v":-1.56,"j":-0.05},{"p":6,"c":"1-back","v":-1.75,"j":-0.04},
{"p":6,"c":"2-back","v":-0.25,"j":0.07},{"p":6,"c":"2-back","v":-0.28,"j":0.1},{"p":6,"c":"2-back","v":-0.32,"j":-0.06},{"p":6,"c":"2-back","v":-0.35,"j":0.03},{"p":6,"c":"2-back","v":-0.37,"j":0.0},{"p":6,"c":"2-back","v":-0.39,"j":0.08},{"p":6,"c":"2-back","v":-0.4,"j":-0.05},{"p":6,"c":"2-back","v":-0.42,"j":0.02},{"p":6,"c":"2-back","v":-0.43,"j":-0.09},{"p":6,"c":"2-back","v":-0.44,"j":0.06},{"p":6,"c":"2-back","v":-0.45,"j":-0.02},{"p":6,"c":"2-back","v":-0.46,"j":0.1},{"p":6,"c":"2-back","v":-0.47,"j":-0.07},{"p":6,"c":"2-back","v":-0.48,"j":0.04},{"p":6,"c":"2-back","v":-0.49,"j":-0.1},{"p":6,"c":"2-back","v":-0.5,"j":0.0},{"p":6,"c":"2-back","v":-0.51,"j":0.07},{"p":6,"c":"2-back","v":-0.52,"j":-0.04},{"p":6,"c":"2-back","v":-0.53,"j":0.09},{"p":6,"c":"2-back","v":-0.55,"j":-0.08},{"p":6,"c":"2-back","v":-0.57,"j":0.03},{"p":6,"c":"2-back","v":-0.59,"j":-0.06},{"p":6,"c":"2-back","v":-0.61,"j":0.05},{"p":6,"c":"2-back","v":-0.63,"j":-0.01},{"p":6,"c":"2-back","v":-0.66,"j":0.1},{"p":6,"c":"2-back","v":-0.7,"j":-0.09},{"p":6,"c":"2-back","v":-0.42,"j":0.01},{"p":6,"c":"2-back","v":-0.46,"j":0.06},{"p":6,"c":"2-back","v":-0.5,"j":-0.03},{"p":6,"c":"2-back","v":-0.44,"j":0.08},{"p":6,"c":"2-back","v":-0.55,"j":-0.07},
{"p":6,"c":"3-back","v":0.0,"j":0.08},{"p":6,"c":"3-back","v":-0.01,"j":-0.05},{"p":6,"c":"3-back","v":-0.01,"j":0.02},{"p":6,"c":"3-back","v":-0.02,"j":-0.09},{"p":6,"c":"3-back","v":-0.02,"j":0.06},{"p":6,"c":"3-back","v":-0.03,"j":-0.02},{"p":6,"c":"3-back","v":-0.03,"j":0.1},{"p":6,"c":"3-back","v":-0.04,"j":-0.07},{"p":6,"c":"3-back","v":-0.04,"j":0.04},{"p":6,"c":"3-back","v":-0.05,"j":-0.1},{"p":6,"c":"3-back","v":-0.05,"j":0.0},{"p":6,"c":"3-back","v":-0.06,"j":0.07},{"p":6,"c":"3-back","v":-0.07,"j":-0.04},{"p":6,"c":"3-back","v":-0.08,"j":0.09},{"p":6,"c":"3-back","v":-0.09,"j":-0.08},{"p":6,"c":"3-back","v":-0.1,"j":0.03},{"p":6,"c":"3-back","v":-0.11,"j":-0.06},{"p":6,"c":"3-back","v":-0.12,"j":0.05},{"p":6,"c":"3-back","v":-0.14,"j":-0.01},{"p":6,"c":"3-back","v":-0.16,"j":0.1},{"p":6,"c":"3-back","v":-0.19,"j":-0.09},{"p":6,"c":"3-back","v":-0.03,"j":0.01},{"p":6,"c":"3-back","v":-0.05,"j":0.06},{"p":6,"c":"3-back","v":-0.02,"j":-0.03},{"p":6,"c":"3-back","v":-0.3,"j":0.05}
]},
"spacing": 19,
"vconcat": [
 {"spacing": 18, "hconcat": [
  {"title": "Without demo", "width": 202, "height": 252, "transform": [{"filter": "datum.p == 1"}], "mark": {"type": "circle", "clip": false},
   "encoding": {
    "x": {"field": "c", "type": "nominal", "sort": ["1-back", "2-back", "3-back"], "scale": {"paddingInner": 0, "paddingOuter": 0}, "axis": {"title": null, "labelAngle": 0, "bandPosition": 0.5}},
    "xOffset": {"field": "j", "type": "quantitative", "scale": {"domain": [-0.5, 0.5]}},
    "y": {"field": "v", "type": "quantitative", "scale": {"domain": [-4, 0.1], "nice": false, "zero": false}, "axis": {"values": [0, -1, -2, -3, -4], "format": "d", "title": "Retrieval logprob", "titlePadding": 8}},
    "color": {"field": "c", "type": "nominal", "scale": {"domain": ["1-back", "2-back", "3-back"], "range": ["#008080", "#FFB347", "#44AD4A"]}, "legend": null}}},
  {"title": "With demo", "width": 202, "height": 252, "transform": [{"filter": "datum.p == 2"}], "mark": {"type": "circle", "clip": false},
   "encoding": {
    "x": {"field": "c", "type": "nominal", "sort": ["1-back", "2-back", "3-back"], "scale": {"paddingInner": 0, "paddingOuter": 0}, "axis": {"title": null, "labelAngle": 0, "bandPosition": 0.5}},
    "xOffset": {"field": "j", "type": "quantitative", "scale": {"domain": [-0.5, 0.5]}},
    "y": {"field": "v", "type": "quantitative", "scale": {"domain": [-4, 0.1], "nice": false, "zero": false}, "axis": {"values": [0, -1, -2, -3, -4], "labels": false, "title": null}},
    "color": {"field": "c", "type": "nominal", "scale": {"domain": ["1-back", "2-back", "3-back"], "range": ["#008080", "#FFB347", "#44AD4A"]}, "legend": null}}}
 ]},
 {"spacing": 18, "hconcat": [
  {"title": "Without demo", "width": 202, "height": 252, "transform": [{"filter": "datum.p == 3"}], "mark": {"type": "circle", "clip": false},
   "encoding": {
    "x": {"field": "c", "type": "nominal", "sort": ["1-back", "2-back", "3-back"], "scale": {"paddingInner": 0, "paddingOuter": 0}, "axis": {"title": null, "labelAngle": 0, "bandPosition": 0.5}},
    "xOffset": {"field": "j", "type": "quantitative", "scale": {"domain": [-0.5, 0.5]}},
    "y": {"field": "v", "type": "quantitative", "scale": {"domain": [-4, 0.1], "nice": false, "zero": false}, "axis": {"values": [0, -1, -2, -3, -4], "format": "d", "title": "Retrieval logprob", "titlePadding": 8}},
    "color": {"field": "c", "type": "nominal", "scale": {"domain": ["1-back", "2-back", "3-back"], "range": ["#008080", "#FFB347", "#44AD4A"]}, "legend": null}}},
  {"title": "With demo", "width": 202, "height": 252, "transform": [{"filter": "datum.p == 4"}], "mark": {"type": "circle", "clip": false},
   "encoding": {
    "x": {"field": "c", "type": "nominal", "sort": ["1-back", "2-back", "3-back"], "scale": {"paddingInner": 0, "paddingOuter": 0}, "axis": {"title": null, "labelAngle": 0, "bandPosition": 0.5}},
    "xOffset": {"field": "j", "type": "quantitative", "scale": {"domain": [-0.5, 0.5]}},
    "y": {"field": "v", "type": "quantitative", "scale": {"domain": [-4, 0.1], "nice": false, "zero": false}, "axis": {"values": [0, -1, -2, -3, -4], "labels": false, "title": null}},
    "color": {"field": "c", "type": "nominal", "scale": {"domain": ["1-back", "2-back", "3-back"], "range": ["#008080", "#FFB347", "#44AD4A"]}, "legend": null}}}
 ]},
 {"spacing": 18, "hconcat": [
  {"title": "Without demo", "width": 202, "height": 252, "transform": [{"filter": "datum.p == 5"}], "mark": {"type": "circle", "clip": false},
   "encoding": {
    "x": {"field": "c", "type": "nominal", "sort": ["1-back", "2-back", "3-back"], "scale": {"paddingInner": 0, "paddingOuter": 0}, "axis": {"title": null, "labelAngle": 0, "bandPosition": 0.5}},
    "xOffset": {"field": "j", "type": "quantitative", "scale": {"domain": [-0.5, 0.5]}},
    "y": {"field": "v", "type": "quantitative", "scale": {"domain": [-4, 0.1], "nice": false, "zero": false}, "axis": {"values": [0, -1, -2, -3, -4], "format": "d", "title": "Retrieval logprob", "titlePadding": 8}},
    "color": {"field": "c", "type": "nominal", "scale": {"domain": ["1-back", "2-back", "3-back"], "range": ["#008080", "#FFB347", "#44AD4A"]}, "legend": null}}},
  {"title": "With demo", "width": 202, "height": 252, "transform": [{"filter": "datum.p == 6"}], "mark": {"type": "circle", "clip": false},
   "encoding": {
    "x": {"field": "c", "type": "nominal", "sort": ["1-back", "2-back", "3-back"], "scale": {"paddingInner": 0, "paddingOuter": 0}, "axis": {"title": null, "labelAngle": 0, "bandPosition": 0.5}},
    "xOffset": {"field": "j", "type": "quantitative", "scale": {"domain": [-0.5, 0.5]}},
    "y": {"field": "v", "type": "quantitative", "scale": {"domain": [-4, 0.1], "nice": false, "zero": false}, "axis": {"values": [0, -1, -2, -3, -4], "labels": false, "title": null}},
    "color": {"field": "c", "type": "nominal", "scale": {"domain": ["1-back", "2-back", "3-back"], "range": ["#008080", "#FFB347", "#44AD4A"]}, "legend": null}}}
 ]}
]
}
